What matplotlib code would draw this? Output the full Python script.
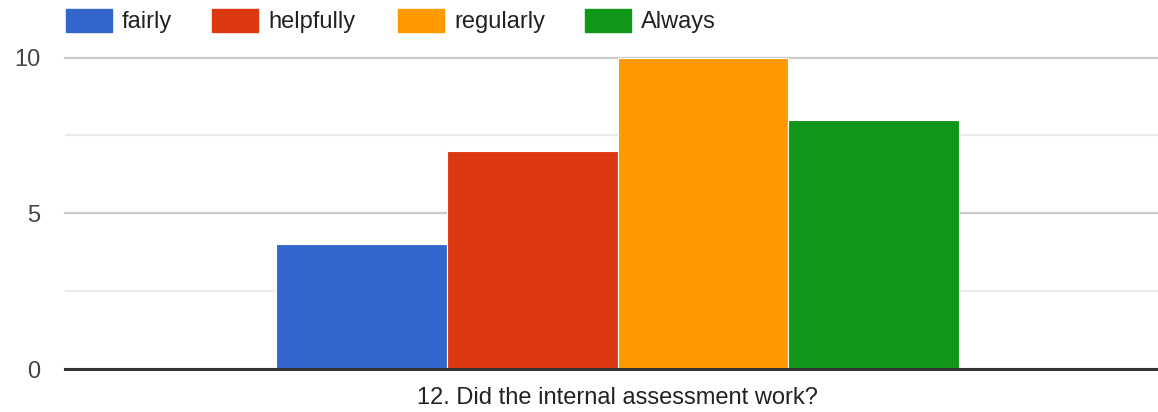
import matplotlib
matplotlib.use("Agg")
import matplotlib.pyplot as plt
from matplotlib.patches import Rectangle

plt.rcParams['font.family'] = ['Liberation Sans', 'DejaVu Sans']

category = "12. Did the internal assessment work?"
series = ["fairly", "helpfully", "regularly", "Always"]
values = [4, 7, 10, 8]
colors = ["#3366cc", "#dc3912", "#ff9900", "#109618"]
yticks = [0, 5, 10]

W, H = 1158, 412
fig = plt.figure(figsize=(W / 100, H / 100), dpi=100)
ax = fig.add_axes([65 / W, 1 - 369 / H, (W - 65) / W, (369 - 57.5) / H])

n = len(series)
for i, (s, v, c) in enumerate(zip(series, values, colors)):
    ax.bar(i - (n - 1) / 2, v, width=1.0, color=c, edgecolor="white",
           linewidth=0.8, zorder=3)

ax.set_xlim(-3.236, 3.165)
ax.set_ylim(0, 10)
ax.set_yticks(yticks)
ax.set_yticks([2.5, 7.5], minor=True)
ax.set_yticklabels([str(t) for t in yticks], fontsize=17, color="#444444")
ax.tick_params(axis="y", which="both", length=0, pad=18)
ax.set_xticks([0])
ax.set_xticklabels([category], fontsize=17, color="#222222")
ax.tick_params(axis="x", length=0, pad=13)
ax.grid(axis="y", which="major", color="#cccccc", linewidth=1.6, zorder=0)
ax.grid(axis="y", which="minor", color="#ebebeb", linewidth=1.6, zorder=0)
for ln in ax.get_ygridlines():
    ln.set_clip_on(False)
for sp in ["top", "right", "left"]:
    ax.spines[sp].set_visible(False)
ax.spines["bottom"].set_color("#333333")
ax.spines["bottom"].set_linewidth(2.2)
ax.spines["bottom"].set_zorder(5)

# legend
box_x = [66, 212, 398, 585]
for bx, s, c in zip(box_x, series, colors):
    fig.patches.append(Rectangle((bx / W, 1 - 32 / H), 46 / W, 23 / H,
                                 transform=fig.transFigure, color=c))
    fig.text((bx + 56) / W, 1 - 22 / H, s, fontsize=17, color="#222222",
             va="center", ha="left")

fig.savefig("out.png", dpi=100, facecolor="white")
